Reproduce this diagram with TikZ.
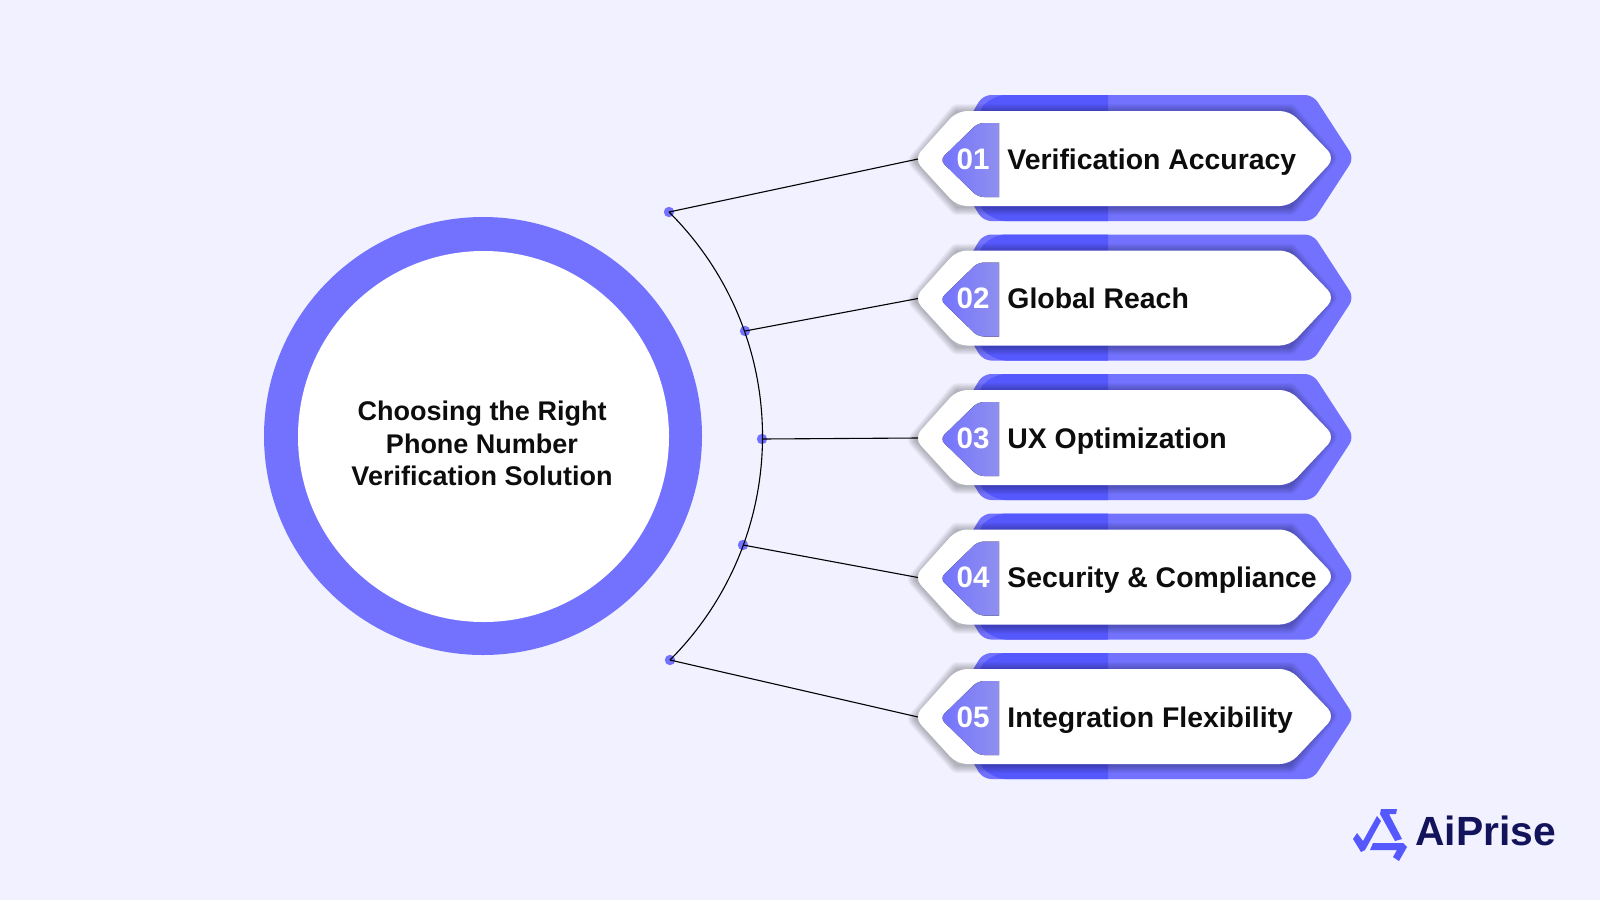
\documentclass[tikz,border=0pt]{standalone}
\usepackage{fontspec}
\setmainfont{Liberation Sans}
\usetikzlibrary{positioning}
\definecolor{pagebg}{HTML}{F1F1FF}
\definecolor{ringblue}{HTML}{7272FF}
\definecolor{bandblue}{HTML}{5558FC}
\definecolor{tabblue}{HTML}{9090EE}
\definecolor{logonavy}{HTML}{12135A}
\tikzset{
  rowtitle/.style={anchor=base west, inner sep=0pt, font=\fontsize{14.2}{16}\selectfont\bfseries, text=black!95},
  rownum/.style={anchor=base, inner sep=0pt, font=\fontsize{14.8}{16}\selectfont\bfseries, text=white},
  linkline/.style={black, line width=0.55pt},
  linkdot/.style={circle, fill=ringblue, inner sep=0pt, minimum size=5.2pt}
}
\begin{document}
\begin{tikzpicture}[x=0.5pt, y=-0.5pt]
  \useasboundingbox[fill=pagebg] (0,0) rectangle (1600,900);

  % big circle
  \node[circle, fill=ringblue, inner sep=0pt, minimum size=219pt] (ring) at (483,436) {};
  \node[circle, fill=white, inner sep=0pt, minimum size=185.5pt] (hub) at (483.5,436.5) {};
  \node[align=center, inner sep=0pt, font=\fontsize{13.5}{16.3}\selectfont\bfseries, text=black!95] (title) at (482,443.5)
    {Choosing the Right\\Phone Number\\Verification Solution};

  % the five rows
  \foreach \yy/\num/\txt in {158/01/Verification Accuracy, 297.5/02/Global Reach, 437/03/UX Optimization, 576.5/04/Security \& Compliance, 716/05/Integration Flexibility}{
    \begin{scope}[yshift=-\yy*0.5pt]
      \fill[ringblue, rounded corners=4pt] (983,-63) -- (1313,-63) -- (1354,0) -- (1313,63) -- (983,63) -- (945,0) -- cycle;
      \fill[bandblue] (1108,-63) -- (1005,-63) [rounded corners=8pt] -- (990,-63) -- (975,-40) -- (975,40) -- (990,63) [sharp corners] -- (1005,63) -- (1108,63) -- cycle;
      % soft shadow
      \foreach \w in {1,...,8}{
        \draw[black, opacity=0.035, line width=\w*1pt, line join=round] (957,49) -- (916,3) -- (957,-46) -- (1290,-46) -- (1329,0) -- (1290,49) -- cycle;
      }
      \fill[white, rounded corners=5pt] (957,-47) -- (1290,-47) -- (1335,0) -- (1290,48) -- (957,48) -- (914,1) -- cycle;
      \coordinate (tip\num) at (918,1);
      \fill[left color=ringblue, right color=tabblue] (999,-35) -- (985,-35) [rounded corners=3pt] -- (978,-35) -- (940,2) -- (978,39) [sharp corners] -- (985,39) -- (999,39) -- cycle;
      \node[rownum] (num\num) at (973,11) {\num};
      \node[rowtitle] (label\num) at (1007,11) {\txt};
    \end{scope}
  }

  % arc and its dots
  \node[linkdot] (dotA) at (669,212) {};
  \node[linkdot] (dotB) at (745,331) {};
  \node[linkdot] (dotC) at (762,439) {};
  \node[linkdot] (dotD) at (743,545) {};
  \node[linkdot] (dotE) at (670,660) {};
  \draw[linkline] (dotA.center) to[bend left=45] (dotE.center);
  \draw[linkline] (dotA.center) -- (tip01);
  \draw[linkline] (dotB.center) -- (tip02);
  \draw[linkline] (dotC.center) -- (tip03);
  \draw[linkline] (dotD.center) -- (tip04);
  \draw[linkline] (dotE.center) -- (tip05);

  % logo
  \fill[bandblue] (1381,809) -- (1397,809) -- (1396,814) -- (1389,814) -- (1402,839) -- (1395,841) -- (1380,814) -- cycle;
  \fill[bandblue] (1377,816) -- (1381,821) -- (1365,850) -- (1361,852) -- (1353,839) -- (1357,833) -- (1363,841) -- cycle;
  \fill[bandblue] (1373,843) -- (1403,843) -- (1407,847) -- (1399,861) -- (1393,857) -- (1397,850) -- (1370,850) -- cycle;
  \node[anchor=base west, inner sep=0pt, font=\fontsize{20.4}{24}\selectfont\bfseries, text=logonavy] (brand) at (1415,845) {AiPrise};
\end{tikzpicture}
\end{document}
